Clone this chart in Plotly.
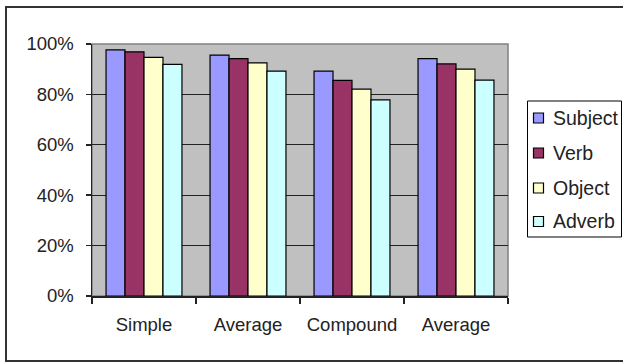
import plotly.graph_objects as go

categories = ["Simple", "Average", "Compound", "Average"]
series_names = ["Subject", "Verb", "Object", "Adverb"]
subject = [0.977, 0.956, 0.892, 0.942]
verb = [0.969, 0.942, 0.856, 0.921]
obj = [0.947, 0.925, 0.821, 0.900]
adverb = [0.919, 0.892, 0.778, 0.857]
y_ticks = [0, 0.2, 0.4, 0.6, 0.8, 1.0]
colors = ["#9999FF", "#993366", "#FFFFCC", "#CCFFFF"]

W, H = 623, 363
L, R, T, B = 92, 508, 44, 296
FONT = "Liberation Sans, Arial, sans-serif"
TXT = "#222222"

xpos = list(range(len(categories)))
fig = go.Figure()
for name, vals, col in zip(series_names, [subject, verb, obj, adverb], colors):
    fig.add_trace(go.Bar(
        x=xpos, y=vals, name=name, showlegend=False,
        marker=dict(color=col, line=dict(color="black", width=1.2)),
    ))


def px_x(p):
    return (p - L) / (R - L)


def px_y(p):
    return (B - p) / (B - T)


shapes = [
    # plot-area border (grey)
    dict(type="rect", xref="paper", yref="paper", x0=0, x1=1, y0=0, y1=1,
         line=dict(color="#808080", width=1.5), layer="below"),
    # outer chart border
    dict(type="rect", xref="paper", yref="paper",
         x0=px_x(6), x1=px_x(630), y0=px_y(361), y1=px_y(7),
         line=dict(color="#333333", width=2)),
    # legend box
    dict(type="rect", xref="paper", yref="paper",
         x0=px_x(527.5), x1=px_x(621.5), y0=px_y(237), y1=px_y(101),
         line=dict(color="black", width=1), fillcolor="white"),
]
annotations = []
legend_y = [118, 153, 188, 221.5]
for name, col, cy in zip(series_names, colors, legend_y):
    shapes.append(dict(type="rect", xref="paper", yref="paper",
                       x0=px_x(533.5), x1=px_x(543.5),
                       y0=px_y(cy + 5), y1=px_y(cy - 5),
                       line=dict(color="black", width=1.2), fillcolor=col))
    annotations.append(dict(xref="paper", yref="paper", x=px_x(551), y=px_y(cy),
                            xanchor="left", yanchor="middle", showarrow=False,
                            text=name, font=dict(family=FONT, size=19.5, color=TXT)))

fig.update_layout(
    width=W, height=H,
    margin=dict(l=L, r=W - R, t=T, b=H - B, pad=0, autoexpand=False),
    paper_bgcolor="white", plot_bgcolor="#C0C0C0",
    font=dict(family=FONT, size=18.5, color=TXT),
    barmode="group", bargap=0.27, bargroupgap=0,
    showlegend=False,
    shapes=shapes, annotations=annotations,
    xaxis=dict(
        range=[-0.5, 3.5], tickvals=xpos, ticktext=categories,
        ticks="", showgrid=False, zeroline=False,
        showline=True, linecolor=TXT, linewidth=1.5,
        ticklabelstandoff=11,
        minor=dict(tickvals=[-0.5, 0.5, 1.5, 2.5, 3.5], ticks="outside",
                   ticklen=6, tickcolor=TXT, tickwidth=1.5, showgrid=False),
    ),
    yaxis=dict(
        range=[0, 1], tickvals=y_ticks, tickformat=".0%",
        ticks="outside", ticklen=5, tickcolor=TXT, tickwidth=1.5,
        showgrid=True, gridcolor=TXT, gridwidth=1,
        zeroline=False, showline=True, linecolor=TXT, linewidth=1.5,
        ticklabelstandoff=8,
    ),
)

fig.write_html("out.html",
               config={"displayModeBar": False, "staticPlot": True},
               post_script="document.body.style.margin='0';document.body.style.overflow='hidden';")
